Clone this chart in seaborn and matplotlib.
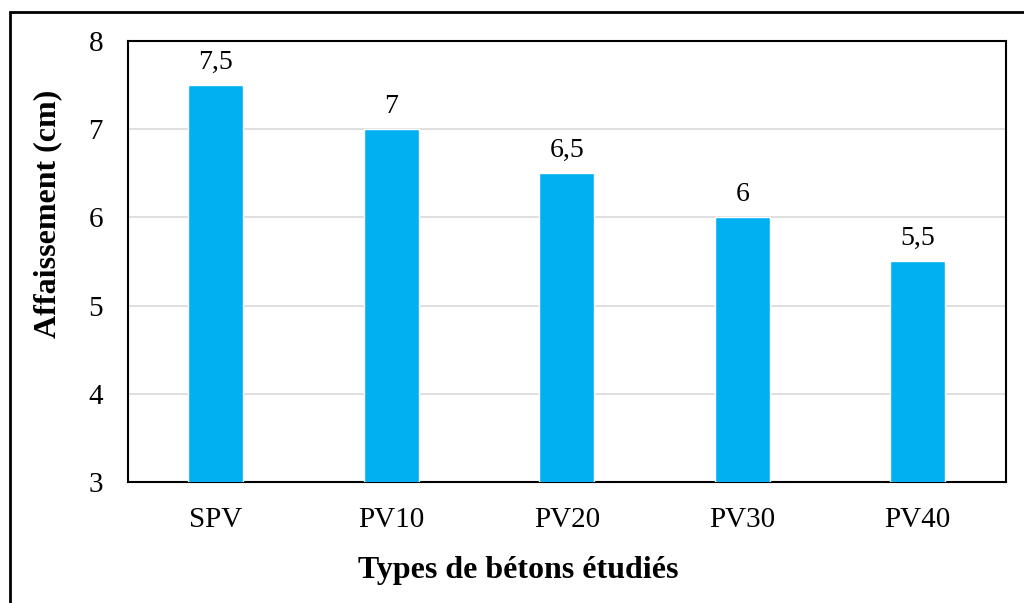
import matplotlib
matplotlib.use("Agg")
import matplotlib.pyplot as plt
import seaborn as sns
import pandas as pd
from matplotlib.patches import Rectangle

# Données
types_beton = ["SPV", "PV10", "PV20", "PV30", "PV40"]
affaissement = [7.5, 7.0, 6.5, 6.0, 5.5]
y_ticks = [3, 4, 5, 6, 7, 8]

sns.set_theme(style="white")
plt.rcParams['font.family'] = ['Liberation Serif', 'DejaVu Serif']
plt.rcParams['text.color'] = 'black'
plt.rcParams['axes.labelcolor'] = 'black'

df = pd.DataFrame({"Type": types_beton, "Affaissement": affaissement})

fig = plt.figure(figsize=(10.24, 6.03), dpi=100)
ax = fig.add_axes([0.125, 0.2007, 0.857, 0.7313])

sns.barplot(data=df, x="Type", y="Affaissement", color="#00B0F0",
            saturation=1, width=0.313, ax=ax, zorder=3)

ax.set_ylim(3, 8)
ax.set_yticks(y_ticks)
ax.yaxis.grid(True, color="#d9d9d9", linewidth=1.2, zorder=0)
ax.set_axisbelow(True)

for spine in ax.spines.values():
    spine.set_visible(True)
    spine.set_color("black")
    spine.set_linewidth(1.5)

ax.tick_params(axis="both", labelsize=21, length=0, colors="black")
ax.tick_params(axis="y", pad=18)
ax.tick_params(axis="x", pad=18)

# Étiquettes de valeurs (virgule décimale)
for i, v in enumerate(affaissement):
    txt = f"{v:g}".replace(".", ",")
    ax.text(i, v + 0.12, txt, ha="center", va="bottom", fontsize=20, color="black")

ax.set_xlabel("Types de bétons étudiés", fontsize=23, fontweight="bold")
ax.set_ylabel("Affaissement (cm)", fontsize=23, fontweight="bold")
ax.xaxis.set_label_coords(0.445, -0.168)
ax.yaxis.set_label_coords(-0.075, 0.608)

# Cadre extérieur du graphique
fig.patches.append(Rectangle((10 / 1024, -0.1), 1.2, 1.1 - 12 / 603,
                             transform=fig.transFigure, fill=False,
                             edgecolor="black", linewidth=2))

fig.savefig("out.png", dpi=100)
